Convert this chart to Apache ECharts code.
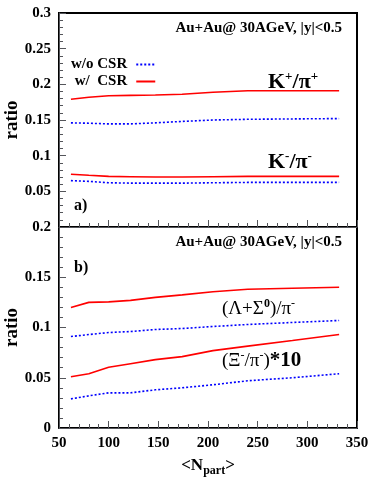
<!DOCTYPE html>
<html>
<head>
<meta charset="utf-8">
<script src="https://cdn.jsdelivr.net/npm/echarts@6/dist/echarts.min.js"></script>
<style>
  html, body { margin: 0; padding: 0; background: #fff; }
  #chart { width: 374px; height: 497px; }
</style>
</head>
<body>
<div id="chart"></div>
<script>
// N_part centralities
var nPart = [62, 80, 100, 122, 147, 174, 205, 240, 285, 332];

// panel a) K/pi ratios
var kPlusWith    = [0.179, 0.182, 0.184, 0.1845, 0.185, 0.186, 0.189, 0.191, 0.191, 0.191];
var kPlusWithout = [0.146, 0.1455, 0.1445, 0.1445, 0.146, 0.148, 0.150, 0.151, 0.1515, 0.152];
var kMinusWith    = [0.074, 0.0725, 0.071, 0.0705, 0.070, 0.070, 0.0705, 0.071, 0.071, 0.071];
var kMinusWithout = [0.065, 0.064, 0.062, 0.0615, 0.0615, 0.0615, 0.062, 0.0625, 0.0625, 0.0625];

// panel b) hyperon ratios
var lambdaWith    = [0.120, 0.125, 0.1255, 0.127, 0.130, 0.1325, 0.1355, 0.138, 0.139, 0.140];
var lambdaWithout = [0.091, 0.093, 0.095, 0.096, 0.098, 0.099, 0.101, 0.103, 0.105, 0.107];
var xiWith    = [0.051, 0.054, 0.0605, 0.064, 0.068, 0.071, 0.077, 0.0815, 0.087, 0.093];
var xiWithout = [0.029, 0.032, 0.035, 0.035, 0.038, 0.040, 0.043, 0.047, 0.050, 0.054];

var serif = 'Liberation Serif';

function pairs(ys) {
    return nPart.map(function (x, i) { return [x, ys[i]]; });
}

function fmt(v) { return String(+v.toFixed(2)); }

function common() {
    return {
        axisLine: { show: true, onZero: false },
        axisTick: { show: true, inside: true, length: 7 },
        minorTick: { show: true, splitNumber: 5, length: 4 },
        splitLine: { show: false }
    };
}
var labelFont = { fontFamily: serif, fontWeight: 'bold', fontSize: 15, color: '#000' };

var chart = echarts.init(document.getElementById('chart'));

chart.setOption({
    animation: false,
    grid: [
        { left: 59, top: 13, width: 298, height: 214, outerBoundsMode: 'none',
          show: true, borderColor: '#000', borderWidth: 2 },
        { left: 59, top: 227, width: 298, height: 201, outerBoundsMode: 'none',
          show: true, borderColor: '#000', borderWidth: 2 }
    ],
    legend: {
        orient: 'vertical', left: 66, top: 52, align: 'right',
        itemWidth: 19, itemHeight: 10, itemGap: 2,
        itemStyle: { opacity: 0 },
        data: ['w/o CSR', 'w/  CSR'],
        textStyle: { fontFamily: serif, fontWeight: 'bold', fontSize: 15, lineHeight: 15, color: '#000', padding: [0, 4, 0, 0] }
    },
    xAxis: [
        Object.assign({
            type: 'value', gridIndex: 0, min: 50, max: 350, interval: 50,
            axisLabel: { show: false }
        }, common()),
        Object.assign({
            type: 'value', gridIndex: 1, min: 50, max: 350, interval: 50,
            axisLabel: Object.assign({ margin: 8 }, labelFont),
            name: '{a|<N}{s|part}{a|>}', nameLocation: 'middle', nameGap: 27,
            nameTextStyle: {
                rich: {
                    a: { fontFamily: serif, fontWeight: 'bold', fontSize: 17, color: '#000', lineHeight: 22 },
                    s: { fontFamily: serif, fontWeight: 'bold', fontSize: 12, color: '#000', verticalAlign: 'bottom', lineHeight: 22 }
                }
            }
        }, common())
    ],
    yAxis: [
        Object.assign({
            type: 'value', gridIndex: 0, min: 0, max: 0.3, interval: 0.05,
            axisLabel: Object.assign({
                margin: 8, formatter: function (v) { return v === 0 ? '' : fmt(v); }
            }, labelFont),
            name: 'ratio', nameLocation: 'middle', nameGap: 37, nameMoveOverlap: false,
            nameTextStyle: { fontFamily: serif, fontWeight: 'bold', fontSize: 19, color: '#000' }
        }, common()),
        Object.assign({
            type: 'value', gridIndex: 1, min: 0, max: 0.2, interval: 0.05,
            axisLabel: Object.assign({ margin: 8, formatter: fmt }, labelFont),
            name: 'ratio', nameLocation: 'middle', nameGap: 37, nameMoveOverlap: false,
            nameTextStyle: { fontFamily: serif, fontWeight: 'bold', fontSize: 19, color: '#000' }
        }, common())
    ],
    series: [
        { name: 'w/o CSR', type: 'line', xAxisIndex: 0, yAxisIndex: 0, data: pairs(kPlusWithout), symbol: 'none',
          lineStyle: { color: '#0000ff', width: 1.6, type: [2, 2] }, itemStyle: { color: '#0000ff' } },
        { name: 'w/  CSR', type: 'line', xAxisIndex: 0, yAxisIndex: 0, data: pairs(kPlusWith), symbol: 'none',
          lineStyle: { color: '#ff0000', width: 1.6 }, itemStyle: { color: '#ff0000' } },
        { name: 'w/o CSR', type: 'line', xAxisIndex: 0, yAxisIndex: 0, data: pairs(kMinusWithout), symbol: 'none',
          lineStyle: { color: '#0000ff', width: 1.6, type: [2, 2] }, itemStyle: { color: '#0000ff' } },
        { name: 'w/  CSR', type: 'line', xAxisIndex: 0, yAxisIndex: 0, data: pairs(kMinusWith), symbol: 'none',
          lineStyle: { color: '#ff0000', width: 1.6 }, itemStyle: { color: '#ff0000' } },
        { name: 'w/o CSR', type: 'line', xAxisIndex: 1, yAxisIndex: 1, data: pairs(lambdaWithout), symbol: 'none',
          lineStyle: { color: '#0000ff', width: 1.6, type: [2, 2] }, itemStyle: { color: '#0000ff' } },
        { name: 'w/  CSR', type: 'line', xAxisIndex: 1, yAxisIndex: 1, data: pairs(lambdaWith), symbol: 'none',
          lineStyle: { color: '#ff0000', width: 1.6 }, itemStyle: { color: '#ff0000' } },
        { name: 'w/o CSR', type: 'line', xAxisIndex: 1, yAxisIndex: 1, data: pairs(xiWithout), symbol: 'none',
          lineStyle: { color: '#0000ff', width: 1.6, type: [2, 2] }, itemStyle: { color: '#0000ff' } },
        { name: 'w/  CSR', type: 'line', xAxisIndex: 1, yAxisIndex: 1, data: pairs(xiWith), symbol: 'none',
          lineStyle: { color: '#ff0000', width: 1.6 }, itemStyle: { color: '#ff0000' } }
    ],
    graphic: [
        { type: 'text', x: 342, y: 28, style: { text: 'Au+Au@ 30AGeV, |y|<0.5', align: 'right', verticalAlign: 'middle',
          fontFamily: serif, fontWeight: 'bold', fontSize: 15, fill: '#000' } },
        { type: 'text', x: 342, y: 242, style: { text: 'Au+Au@ 30AGeV, |y|<0.5', align: 'right', verticalAlign: 'middle',
          fontFamily: serif, fontWeight: 'bold', fontSize: 15, fill: '#000' } },
        { type: 'text', x: 74, y: 206, style: { text: 'a)', verticalAlign: 'middle',
          fontFamily: serif, fontWeight: 'bold', fontSize: 16, fill: '#000' } },
        { type: 'text', x: 74, y: 268, style: { text: 'b)', verticalAlign: 'middle',
          fontFamily: serif, fontWeight: 'bold', fontSize: 16, fill: '#000' } },
        { type: 'text', x: 268, y: 82, style: { text: '{b|K}{s|+}{b|/π}{s|+}', verticalAlign: 'middle', rich: {
          b: { fontFamily: serif, fontWeight: 'bold', fontSize: 22, lineHeight: 24 },
          s: { fontFamily: serif, fontWeight: 'bold', fontSize: 13, verticalAlign: 'top', lineHeight: 24 } } } },
        { type: 'text', x: 268, y: 162, style: { text: '{b|K}{s|-}{b|/π}{s|-}', verticalAlign: 'middle', rich: {
          b: { fontFamily: serif, fontWeight: 'bold', fontSize: 22, lineHeight: 24 },
          s: { fontFamily: serif, fontWeight: 'bold', fontSize: 13, verticalAlign: 'top', lineHeight: 24 } } } },
        { type: 'text', x: 222, y: 309, style: { text: '{r|(Λ+Σ}{sb|0}{r|)/π}{s|-}', verticalAlign: 'middle', rich: {
          r: { fontFamily: serif, fontSize: 19, lineHeight: 22 },
          s: { fontFamily: serif, fontSize: 12, verticalAlign: 'top', lineHeight: 22 },
          sb: { fontFamily: serif, fontWeight: 'bold', fontSize: 12, verticalAlign: 'top', lineHeight: 22 } } } },
        { type: 'text', x: 222, y: 361, style: { text: '{r|(Ξ}{s|-}{r|/π}{s|-}{r|)}{rb|*10}', verticalAlign: 'middle', rich: {
          r: { fontFamily: serif, fontSize: 19, lineHeight: 22 },
          s: { fontFamily: serif, fontSize: 12, verticalAlign: 'top', lineHeight: 22 },
          rb: { fontFamily: serif, fontWeight: 'bold', fontSize: 21, lineHeight: 22 } } } }
    ]
});
</script>
</body>
</html>
